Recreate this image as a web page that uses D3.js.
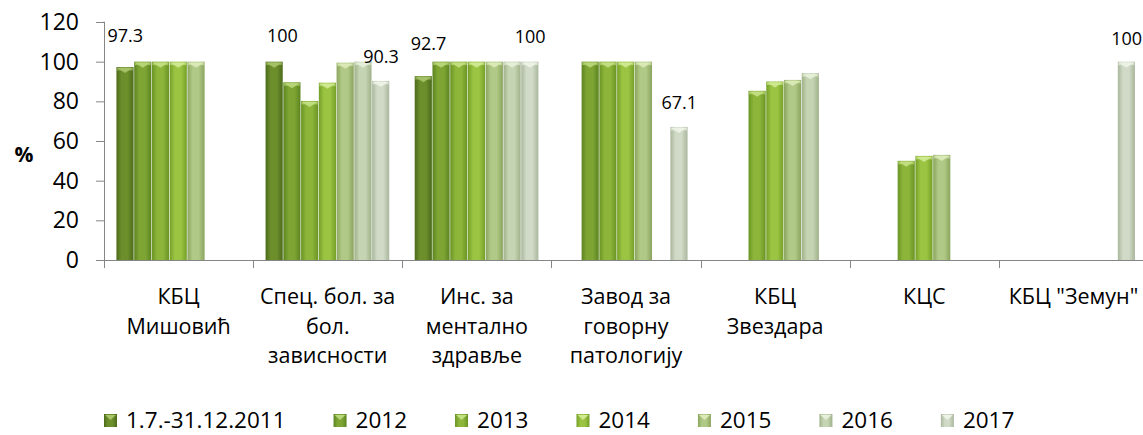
<!DOCTYPE html>
<html>
<head>
<meta charset="utf-8">
<script src="https://cdn.jsdelivr.net/npm/d3@7"></script>
<style>
  html, body { margin: 0; padding: 0; background: #fff; }
  svg { display: block; font-family: "Open Sans", "Noto Sans", sans-serif; }
</style>
</head>
<body>
<div class="chart"></div>
<script>
"use strict";

// categories, one array of text lines each
var categories = ["КБЦ Мишовић", "Спец. бол. за бол. зависности", "Инс. за ментално здравље",
    "Завод за говорну патологију", "КБЦ Звездара", "КЦС", "КБЦ \"Земун\""];
var categoryLines = [
    ["КБЦ", "Мишовић"],
    ["Спец. бол. за", "бол.", "зависности"],
    ["Инс. за", "ментално", "здравље"],
    ["Завод за", "говорну", "патологију"],
    ["КБЦ", "Звездара"],
    ["КЦС"],
    ["КБЦ \"Земун\""]
];

var seriesNames = ["1.7.-31.12.2011", "2012", "2013", "2014", "2015", "2016", "2017"];

// values per series, in category order (null = no bar)
var v2011 = [97.3, 100, 92.7, null, null, null, null];
var v2012 = [100, 89.6, 100, 100, null, null, null];
var v2013 = [100, 80.2, 100, 100, 85.3, 50, null];
var v2014 = [100, 89.4, 100, 100, 90, 52.5, null];
var v2015 = [100, 99.5, 100, 100, 90.8, 53, null];
var v2016 = [null, 100, 100, null, 94.2, null, null];
var v2017 = [null, 90.3, 100, 67.1, null, null, 100];
var seriesValues = [v2011, v2012, v2013, v2014, v2015, v2016, v2017];

var yTicks = [0, 20, 40, 60, 80, 100, 120];

// which bars carry a value label: [series index, category index]
var labelled = [[0, 0], [0, 1], [6, 1], [0, 2], [6, 2], [6, 3], [6, 6]];
// nudges for those labels [dx, lift above bar top]
var labelNudge = [[0, 25], [8, 20], [0, 18], [5, 26], [0, 19], [0, 18], [0, 17]];

// colours: [edge, middle, cap]
var seriesColors = [
    ["#4c6a1a", "#6c8f2c", "#a9c46a"],
    ["#5c8420", "#7ea534", "#b9d77a"],
    ["#6a9424", "#8cb53a", "#c4e083"],
    ["#74a028", "#9cc443", "#d0ea92"],
    ["#8aa45e", "#b0c986", "#dbeab8"],
    ["#9fb18a", "#c5d4b2", "#e6efd9"],
    ["#aab69d", "#d0dac6", "#eef3e8"]
];

var W = 1143, H = 435;
var mLeft = 104, mRight = 1148, mTop = 22, mBottom = 260;

var svg = d3.select(".chart").append("svg")
    .attr("width", W)
    .attr("height", H);

var defs = svg.append("defs");
seriesColors.forEach((c, i) => {
    var g = defs.append("linearGradient")
        .attr("id", "grad" + i)
        .attr("x1", "0").attr("x2", "1").attr("y1", "0").attr("y2", "0");
    g.append("stop").attr("offset", "0%").attr("stop-color", c[0]);
    g.append("stop").attr("offset", "30%").attr("stop-color", c[1]);
    g.append("stop").attr("offset", "65%").attr("stop-color", c[1]);
    g.append("stop").attr("offset", "100%").attr("stop-color", c[0]);
});

var x0 = d3.scaleBand()
    .domain(categories)
    .range([mLeft, mRight])
    .paddingInner(0)
    .paddingOuter(0);

var x1 = d3.scaleBand()
    .domain(seriesNames)
    .range([0, x0.bandwidth()])
    .paddingInner(0)
    .paddingOuter(0.7);

var y = d3.scaleLinear()
    .domain([0, 120])
    .range([mBottom, mTop]);

// flatten to bar records
var bars = [];
seriesValues.forEach((vals, si) => {
    vals.forEach((v, ci) => {
        if (v !== null) bars.push({ s: si, c: ci, v: v });
    });
});

var barG = svg.append("g");
bars.forEach(d => {
    var bx = x0(categories[d.c]) + x1(seriesNames[d.s]);
    var bw = x1.bandwidth() - 0.6;
    var by = y(d.v);
    barG.append("rect")
        .attr("x", bx)
        .attr("y", by)
        .attr("width", bw)
        .attr("height", y(0) - by)
        .attr("fill", "url(#grad" + d.s + ")");
    // top cap highlight
    barG.append("rect")
        .attr("x", bx + 0.5)
        .attr("y", by + 0.5)
        .attr("width", bw - 1)
        .attr("height", 3)
        .attr("fill", seriesColors[d.s][2])
        .attr("opacity", 0.6);
    barG.append("path")
        .attr("d", `M${bx + 1},${by + 1} L${bx + bw - 1},${by + 1} L${bx + bw / 2},${by + 6} Z`)
        .attr("fill", seriesColors[d.s][2])
        .attr("opacity", 0.9);
});

// axes
var axisColor = "#868686";

var yAxis = svg.append("g")
    .attr("transform", `translate(${mLeft},0)`)
    .call(d3.axisLeft(y).tickValues(yTicks).tickSize(8).tickPadding(17));
yAxis.select(".domain").attr("stroke", axisColor).attr("d", `M-0.5,${mTop}H0.5V${mBottom}`);
yAxis.selectAll(".tick line").attr("stroke", axisColor);
yAxis.selectAll(".tick text")
    .attr("fill", "#000")
    .style("font-family", "'Open Sans', sans-serif")
    .style("font-size", "23px");

// x axis line and separator ticks
var xAxis = svg.append("g");
xAxis.append("line")
    .attr("x1", mLeft).attr("x2", mRight)
    .attr("y1", mBottom + 0.5).attr("y2", mBottom + 0.5)
    .attr("stroke", axisColor);
xAxis.selectAll(".sep")
    .data(categories)
    .enter()
    .append("line")
    .attr("x1", d => Math.round(x0(d)) + 0.5)
    .attr("x2", d => Math.round(x0(d)) + 0.5)
    .attr("y1", mBottom)
    .attr("y2", mBottom + 8)
    .attr("stroke", axisColor);

// category labels
var catG = svg.append("g");
categoryLines.forEach((lines, ci) => {
    var t = catG.append("text")
        .attr("x", x0(categories[ci]) + x0.bandwidth() / 2)
        .attr("y", 304)
        .attr("text-anchor", "middle")
        .style("font-size", "21.5px")
        .attr("fill", "#000");
    lines.forEach((ln, li) => {
        t.append("tspan")
            .attr("x", x0(categories[ci]) + x0.bandwidth() / 2)
            .attr("dy", li === 0 ? 0 : 29.5)
            .text(ln);
    });
});

// value labels
labelled.forEach((p, i) => {
    var si = p[0], ci = p[1];
    var v = seriesValues[si][ci];
    svg.append("text")
        .attr("x", x0(categories[ci]) + x1(seriesNames[si]) + x1.bandwidth() / 2 + labelNudge[i][0])
        .attr("y", y(v) - labelNudge[i][1])
        .attr("text-anchor", "middle")
        .style("font-size", "18px")
        .attr("fill", "#000")
        .text(v);
});

// y axis title
svg.append("text")
    .attr("x", 24)
    .attr("y", 162)
    .attr("text-anchor", "middle")
    .style("font-size", "21px")
    .style("font-weight", "bold")
    .text("%");

// legend
var legend = svg.append("g");
var lx = 104;
seriesNames.forEach((name, i) => {
    var item = legend.append("g").attr("transform", `translate(${lx},0)`);
    item.append("rect")
        .attr("x", 0).attr("y", 414)
        .attr("width", 13).attr("height", 13)
        .attr("fill", "url(#grad" + i + ")");
    item.append("path")
        .attr("d", "M1,415 L12,415 L6.5,420 Z")
        .attr("fill", seriesColors[i][2]);
    var t = item.append("text")
        .attr("x", 22)
        .attr("y", 428)
        .style("font-size", "22.5px")
        .attr("fill", "#000")
        .text(name);
    lx += 22 + t.node().getComputedTextLength() + 48;
});
</script>
</body>
</html>
